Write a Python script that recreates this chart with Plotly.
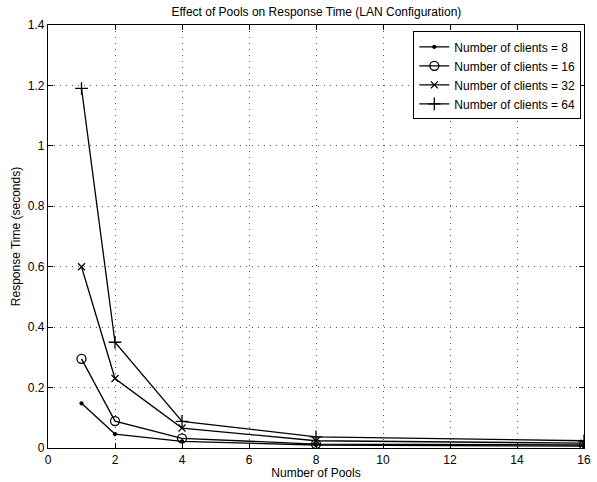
import plotly.graph_objects as go

pools = [1, 2, 4, 8, 16]
clients_8 = [0.148, 0.046, 0.022, 0.010, 0.006]
clients_16 = [0.295, 0.089, 0.032, 0.013, 0.010]
clients_32 = [0.600, 0.230, 0.066, 0.024, 0.016]
clients_64 = [1.19, 0.350, 0.088, 0.037, 0.024]
names = ["Number of clients = 8", "Number of clients = 16",
         "Number of clients = 32", "Number of clients = 64"]
x_ticks = [0, 2, 4, 6, 8, 10, 12, 14, 16]
y_ticks = [0, 0.2, 0.4, 0.6, 0.8, 1, 1.2, 1.4]
y_tick_text = ["0", "0.2", "0.4", "0.6", "0.8", "1", "1.2", "1.4"]

series = [clients_8, clients_16, clients_32, clients_64]
symbols = ["circle", "circle-open", "x-thin-open", "cross-thin-open"]
sizes = [3, 9, 7, 9]

fig = go.Figure()
for name, ys, sym, sz in zip(names, series, symbols, sizes):
    fig.add_trace(go.Scatter(
        x=pools, y=ys, mode="lines+markers", name=name,
        line=dict(color="black", width=1.3),
        marker=dict(symbol=sym, size=sz, color="black",
                    line=dict(color="black", width=1.3)),
    ))

axis_common = dict(
    showline=True, linecolor="black", linewidth=1.2, mirror="ticks",
    ticks="inside", ticklen=5, tickcolor="black",
    showgrid=True, gridcolor="#555", griddash="1px,5px", gridwidth=1,
    zeroline=False, tickfont=dict(size=12, color="black"),
)

fig.update_layout(
    width=597, height=482,
    margin=dict(l=48, r=6, t=25, b=28),
    paper_bgcolor="white", plot_bgcolor="white",
    font=dict(family="Liberation Sans, Arial, sans-serif", color="black", size=12),
    title=dict(text="Effect of Pools on Response Time (LAN Configuration)",
               x=0.53, xanchor="center", y=0.985, yanchor="top",
               font=dict(size=12)),
    xaxis=dict(range=[0, 16], tickvals=x_ticks,
               title=dict(text="Number of Pools", standoff=1, font=dict(size=12)),
               **axis_common),
    yaxis=dict(range=[0, 1.4], tickvals=y_ticks, ticktext=y_tick_text,
               title=dict(text="Response Time (seconds)", standoff=4, font=dict(size=12)),
               **axis_common),
    legend=dict(x=0.995, y=0.985, xanchor="right", yanchor="top",
                bgcolor="white", bordercolor="black", borderwidth=1,
                font=dict(size=12), itemwidth=30),
    showlegend=True,
)

fig.write_html("out.html")
